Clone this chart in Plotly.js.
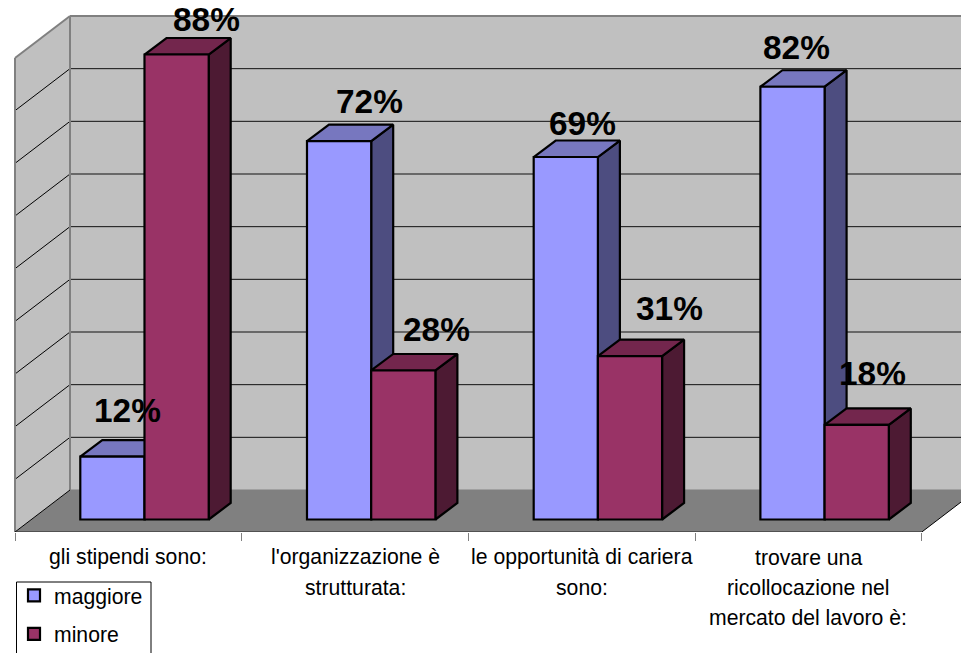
<!DOCTYPE html>
<html>
<head>
<meta charset="utf-8">
<script src="https://cdn.plot.ly/plotly-3.0.1.min.js"></script>
<style>html,body{margin:0;padding:0;background:#fff;overflow:hidden}#chart{width:961px;height:653px}</style>
</head>
<body>
<div id="chart"></div>
<script>
// ---- data ----
const categoryLines = [
  ["gli stipendi sono:"],
  ["l'organizzazione è", "strutturata:"],
  ["le opportunità di cariera", "sono:"],
  ["trovare una", "ricollocazione nel", "mercato del lavoro è:"]
];
const seriesNames = ["maggiore", "minore"];
const maggiore = [11.9, 71.6, 68.6, 81.9];
const minore = [88, 28.2, 30.9, 17.9];
const gridValues = [0, 10, 20, 30, 40, 50, 60, 70, 80, 90];

// ---- label nudges (px) ----
const shiftMaggiore = { x: [15, 30, 17, 4], y: [46, 40, 34, 39] };
const shiftMinore   = { x: [30, 33.5, 40, 15.5], y: [35, 41, 48, 51] };

// ---- scales ----
const W = 961, H = 653, plotBottom = 532;
const pxX = 226.7, pxY = 5.284;
const x0px = 15, zeroPy = 519.5;
const X = p => (p - x0px) / pxX;
const Y = p => (zeroPy - p) / pxY;
const wallDX = 55 / pxX, backLift = Y(490), frontDrop = Y(532);
const wallEnd = 4 + wallDX;
const wallScale = 474 / (90 * pxY);
const barDX = 22 / pxX, barDY = 16.5 / pxY;
const barW = 64.2 / pxX, barCentre = 0.5712;
const colors = {
  wall: "#C0C0C0", floor: "#808080", edge: "#808080",
  blue: "#9999FF", blueTop: "#7777BF", blueSide: "#4D4D80",
  red: "#993366", redTop: "#73264D", redSide: "#4D1A33"
};

const poly = (pts, fill, line, w) => ({
  type: "path", layer: "below", xref: "x", yref: "y", fillcolor: fill,
  line: { color: line || "rgba(0,0,0,0)", width: w || 0 },
  path: "M" + pts.map(p => p[0] + "," + p[1]).join("L") + (fill ? "Z" : "")
});
const seg = (a, b, color, w) => poly([a, b], null, color, w);
const backY = v => backLift + v * wallScale;
const frontY = v => frontDrop + v * wallScale;

const shapes = [
  poly([[wallDX, backY(0)], [wallEnd, backY(0)], [wallEnd, backY(90)], [wallDX, backY(90)]], colors.wall),
  poly([[0, frontY(0)], [wallDX, backY(0)], [wallDX, backY(90)], [0, frontY(90)]], colors.wall),
  poly([[0, frontY(0)], [wallDX, backY(0)], [wallEnd, backY(0)], [4, frontY(0)]], colors.floor)
];
gridValues.slice(1, -1).forEach(v => {
  shapes.push(seg([wallDX, backY(v)], [wallEnd, backY(v)], "#111", 1));
  shapes.push(seg([0, frontY(v)], [wallDX, backY(v)], "#000", 1));
});
shapes.push(seg([wallDX, backY(0)], [wallEnd, backY(0)], colors.edge, 1));
shapes.push(seg([wallDX, backY(0)], [wallDX, backY(90)], colors.edge, 2));
shapes.push(seg([wallDX, backY(90)], [wallEnd, backY(90)], colors.edge, 2));
shapes.push(seg([0, frontY(90)], [wallDX, backY(90)], colors.edge, 2));
shapes.push(seg([0, frontY(0)], [0, frontY(90)], colors.edge, 2));
shapes.push(seg([0, frontY(0)], [wallDX, backY(0)], "#000", 1));
shapes.push(seg([4, frontY(0)], [wallEnd, backY(0)], "#000", 1));
shapes.push(seg([0, frontY(0)], [4, frontY(0)], "#222", 1));
// legend frame, running off the bottom of the picture like the reference
const paperY = p => (plotBottom - p) / plotBottom;
shapes.push({
  type: "rect", layer: "above", xref: "paper", yref: "paper",
  x0: 16.5 / W, x1: 151 / W, y0: paperY(582), y1: paperY(660),
  fillcolor: "#fff", line: { color: "#000", width: 1 }
});

// ---- bar faces ----
function faces(values, side) {
  const sx = [], sy = [], tx = [], ty = [];
  values.forEach((v, i) => {
    const l = i + barCentre + (side - 1) * barW, r = l + barW;
    sx.push(r, r + barDX, r + barDX, r, r, null);
    sy.push(0, barDY, v + barDY, v, 0, null);
    tx.push(l, l + barDX, r + barDX, r, l, null);
    ty.push(v, v + barDY, v + barDY, v, v, null);
  });
  return [[sx, sy], [tx, ty]];
}
const polyTrace = (xy, fill) => ({
  type: "scatter", mode: "lines", x: xy[0], y: xy[1], fill: "toself", fillcolor: fill,
  line: { color: "#000", width: 2.2 }, hoverinfo: "skip", showlegend: false, zorder: 1
});
const barX = maggiore.map((_, i) => i + barCentre);
const fm = faces(maggiore, 0), fn = faces(minore, 1);
const barTrace = (name, vals, color) => ({
  type: "bar", name: name, x: barX, y: vals,
  marker: { color: color, line: { color: "#000", width: 2.2 } },
  legendgroup: name, zorder: 2, hoverinfo: "skip"
});
const traces = [
  polyTrace(fm[0], colors.blueSide), polyTrace(fm[1], colors.blueTop),
  polyTrace(fn[0], colors.redSide), polyTrace(fn[1], colors.redTop),
  barTrace(seriesNames[0], maggiore, colors.blue),
  barTrace(seriesNames[1], minore, colors.red)
];

// ---- text ----
const annotations = [];
const pct = (vals, side, shift) => vals.forEach((v, i) => annotations.push({
  xref: "x", yref: "y", x: i + barCentre + (side - 0.5) * barW, y: v,
  text: Math.round(v) + "%", showarrow: false, xanchor: "center", yanchor: "middle",
  xshift: shift.x[i], yshift: shift.y[i],
  font: { family: "Liberation Sans", size: 33.4, color: "#000", weight: 700 }
}));
pct(maggiore, 0, shiftMaggiore);
pct(minore, 1, shiftMinore);
categoryLines.forEach((lines, i) => lines.forEach((t, j) => annotations.push({
  xref: "x", yref: "paper", x: i + 0.5, y: paperY(557 + j * 30),
  text: t, showarrow: false, xanchor: "center", yanchor: "middle",
  font: { family: "Liberation Sans", size: 21.2, color: "#000" }
})));

const layout = {
  width: W, height: H,
  margin: { l: 0, r: 0, t: 0, b: H - plotBottom, autoexpand: false, pad: 0 },
  paper_bgcolor: "#fff", plot_bgcolor: "#fff",
  barmode: "group", bargap: 1 - 2 * barW, bargroupgap: 0,
  xaxis: {
    range: [X(0), X(W)], tickvals: [0, 1, 2, 3, 4], ticks: "outside", ticklen: 8,
    tickwidth: 1, tickcolor: colors.edge, showticklabels: false, showgrid: false,
    zeroline: false, showline: false, fixedrange: true
  },
  yaxis: { range: [Y(plotBottom), Y(0)], visible: false, fixedrange: true },
  showlegend: true,
  legend: {
    x: 14 / W, y: paperY(575), xanchor: "left", yanchor: "top",
    bgcolor: "rgba(0,0,0,0)", borderwidth: 0, tracegroupgap: 8,
    font: { family: "Liberation Sans", size: 21.2, color: "#000" }
  },
  shapes: shapes, annotations: annotations
};
Plotly.newPlot("chart", traces, layout, { displayModeBar: false, staticPlot: true });
</script>
</body>
</html>
